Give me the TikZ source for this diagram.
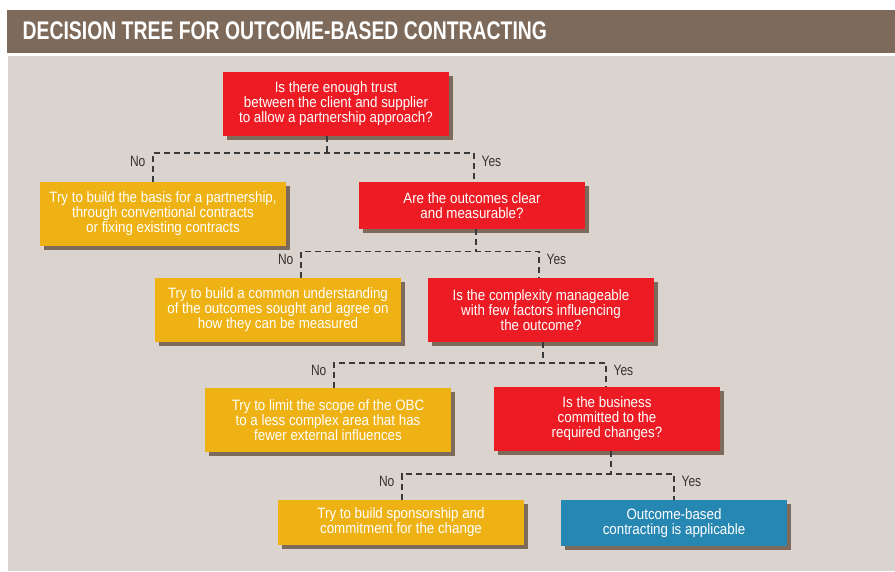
\documentclass[tikz,border=0pt]{standalone}
\usepackage{fontspec}
\newfontfamily\boxfont{Liberation Sans}[FakeStretch=0.89]
\newfontfamily\lblfont{Liberation Sans}[FakeStretch=0.8]
\newfontfamily\titlefont{Liberation Sans}[FakeStretch=0.76]
\usetikzlibrary{shadows}

\definecolor{hdr}{HTML}{7D6A5A}
\definecolor{sand}{HTML}{DBD3CE}
\definecolor{qred}{HTML}{ED1C24}
\definecolor{ayel}{HTML}{EFB214}
\definecolor{oblue}{HTML}{2787B3}
\definecolor{dashgray}{HTML}{3A3A3A}

\tikzset{
  card/.style={minimum width=246pt, minimum height=64pt, inner sep=0pt, align=center,
    text=white, font=\boxfont\fontsize{15}{15}\selectfont,
    drop shadow={shadow xshift=4pt, shadow yshift=-4pt, fill=hdr, opacity=1}},
  ask/.style={card, fill=qred, minimum width=226pt},
  tryit/.style={card, fill=ayel},
  done/.style={card, fill=oblue, minimum width=226pt},
  link/.style={dashgray, line width=1.3pt, dash pattern=on 6pt off 4pt},
  lbl/.style={text=black!80, inner xsep=7pt, font=\lblfont\fontsize{15}{15}\selectfont}
}

\begin{document}
\begin{tikzpicture}[x=1pt, y=-1pt]
\useasboundingbox (0,0) rectangle (895,571);
\fill[white] (0,0) rectangle (895,571);
\fill[hdr] (7,10) rectangle (895,53);
\fill[sand] (8,56) rectangle (895,571);
\node[anchor=base west, inner sep=0pt, text=white, font=\titlefont\bfseries\fontsize{25.5}{28}\selectfont] (title) at (22.5,39.5) {DECISION TREE FOR OUTCOME-BASED CONTRACTING};

% questions and outcomes
\node[ask] (q1) at (336,104) {Is there enough trust\\between the client and supplier\\to allow a partnership approach?};
\node[tryit] (a1) at (163,214) {Try to build the basis for a partnership,\\through conventional contracts\\or fixing existing contracts};
\node[ask, minimum height=47pt] (q2) at (472,205.5) {Are the outcomes clear\\and measurable?};
\node[tryit] (a2) at (278,310) {Try to build a common understanding\\of the outcomes sought and agree on\\how they can be measured};
\node[ask] (q3) at (541,310) {Is the complexity manageable\\with few factors influencing\\the outcome?};
\node[tryit] (a3) at (328,420) {Try to limit the scope of the OBC\\to a less complex area that has\\fewer external influences};
\node[ask] (q4) at (607,419) {Is the business\\committed to the\\required changes?};
\node[tryit, minimum height=45pt] (a4) at (401,522.5) {Try to build sponsorship and\\commitment for the change};
\node[done, minimum height=46pt] (fin) at (674,523) {Outcome-based\\contracting is applicable};

% branches
\coordinate (j1) at (327,153);
\coordinate (n1) at (153,153);
\coordinate (y1) at (474,153);
\draw[link] (q1.south -| j1) -- (j1);
\draw[link] (a1.north -| n1) -- (n1) node[lbl, pos=.7, left] {No} -- (y1) -- (q2.north -| y1) node[lbl, pos=.3, right] {Yes};

\coordinate (j2) at (476,251.5);
\coordinate (n2) at (301,251.5);
\coordinate (y2) at (539,251.5);
\draw[link] (q2.south -| j2) -- (j2);
\draw[link] (a2.north -| n2) -- (n2) node[lbl, pos=.7, left] {No} -- (y2) -- (q3.north -| y2) node[lbl, pos=.3, right] {Yes};

\coordinate (j3) at (543,363);
\coordinate (n3) at (334,363);
\coordinate (y3) at (606,363);
\draw[link] (q3.south -| j3) -- (j3);
\draw[link] (a3.north -| n3) -- (n3) node[lbl, pos=.7, left] {No} -- (y3) -- (q4.north -| y3) node[lbl, pos=.3, right] {Yes};

\coordinate (j4) at (611,474);
\coordinate (n4) at (402,474);
\coordinate (y4) at (674,474);
\draw[link] (q4.south -| j4) -- (j4);
\draw[link] (a4.north -| n4) -- (n4) node[lbl, pos=.7, left] {No} -- (y4) -- (fin.north -| y4) node[lbl, pos=.3, right] {Yes};
\end{tikzpicture}
\end{document}
